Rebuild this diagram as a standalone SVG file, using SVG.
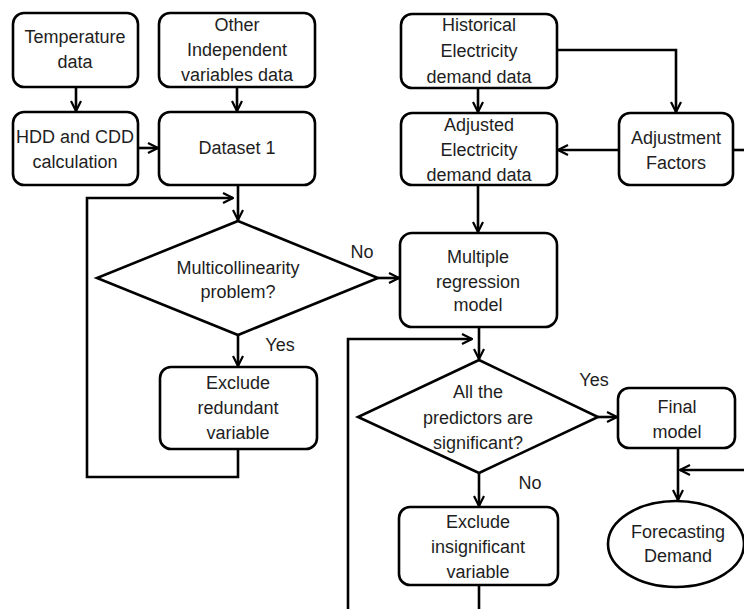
<svg xmlns="http://www.w3.org/2000/svg" width="744" height="609" viewBox="0 0 744 609">
<defs>
<marker id="arr" viewBox="0 0 12 12" refX="11" refY="6" markerWidth="12" markerHeight="12" markerUnits="userSpaceOnUse" orient="auto">
<path d="M1,1 L11,6 L1,11" fill="none" stroke="#000" stroke-width="2.2"/>
</marker>
<style>
.box{fill:#fff;stroke:#000;stroke-width:2.6}
.ln{fill:none;stroke:#000;stroke-width:2.6}
.ar{fill:none;stroke:#000;stroke-width:2.6;marker-end:url(#arr)}
text{font-family:"Liberation Sans",Arial,sans-serif;font-size:18px;fill:#1e1e1e;text-anchor:middle}
</style>
</defs>
<rect width="744" height="609" fill="#fff"/>
<g id="connectors">
<line class="ar" x1="76" y1="87" x2="76" y2="111"/>
<line class="ar" x1="237" y1="87" x2="237" y2="111"/>
<line class="ar" x1="138" y1="148" x2="158" y2="148"/>
<line class="ar" x1="238" y1="185" x2="238" y2="220"/>
<polyline class="ar" points="238,449 238,477 87,477 87,198 233,198"/>
<line class="ar" x1="238" y1="335" x2="238" y2="366"/>
<line class="ar" x1="378" y1="278" x2="399" y2="278"/>
<line class="ar" x1="478" y1="88" x2="478" y2="112"/>
<polyline class="ar" points="557,50 676,50 676,112"/>
<line class="ar" x1="619" y1="150" x2="558" y2="150"/>
<line class="ln" x1="733" y1="150" x2="744" y2="150"/>
<line class="ar" x1="478" y1="185" x2="478" y2="232"/>
<line class="ar" x1="479" y1="327" x2="479" y2="359"/>
<polyline class="ar" points="348,609 348,339 472,339"/>
<line class="ar" x1="598" y1="417" x2="617" y2="417"/>
<line class="ar" x1="479" y1="473" x2="479" y2="506"/>
<line class="ln" x1="479" y1="585" x2="479" y2="609"/>
<line class="ar" x1="678" y1="447" x2="678" y2="500"/>
<line class="ar" x1="744" y1="470" x2="680" y2="470"/>
<text x="362" y="258">No</text>
<text x="280" y="351">Yes</text>
<text x="594" y="386">Yes</text>
<text x="530" y="489">No</text>
</g>
<g id="temperature">
<rect class="box" x="13" y="13" width="125" height="74" rx="11"/>
<text x="75" y="43">Temperature</text>
<text x="75" y="68">data</text>
</g>
<g id="other">
<rect class="box" x="159" y="13" width="156" height="74" rx="11"/>
<text x="237" y="31">Other</text>
<text x="237" y="56">Independent</text>
<text x="237" y="81">variables data</text>
</g>
<g id="hdd">
<rect class="box" x="13" y="112" width="125" height="73" rx="11"/>
<text x="75" y="143">HDD and CDD</text>
<text x="75" y="168">calculation</text>
</g>
<g id="dataset1">
<rect class="box" x="159" y="112" width="156" height="73" rx="11"/>
<text x="237" y="154">Dataset 1</text>
</g>
<g id="historical">
<rect class="box" x="401" y="14" width="156" height="74" rx="11"/>
<text x="479" y="31">Historical</text>
<text x="479" y="57">Electricity</text>
<text x="479" y="83">demand data</text>
</g>
<g id="adjusted">
<rect class="box" x="401" y="113" width="156" height="72" rx="11"/>
<text x="479" y="131">Adjusted</text>
<text x="479" y="156">Electricity</text>
<text x="479" y="181">demand data</text>
</g>
<g id="adjustment">
<rect class="box" x="619" y="113" width="114" height="72" rx="11"/>
<text x="676" y="144">Adjustment</text>
<text x="676" y="169">Factors</text>
</g>
<g id="multicollinearity">
<polygon class="box" points="238,221 378,278 238,335 97,278"/>
<text x="238" y="274">Multicollinearity</text>
<text x="238" y="298">problem?</text>
</g>
<g id="exclude-redundant">
<rect class="box" x="160" y="367" width="157" height="82" rx="11"/>
<text x="238" y="389">Exclude</text>
<text x="238" y="414">redundant</text>
<text x="238" y="439">variable</text>
</g>
<g id="regression">
<rect class="box" x="400" y="233" width="157" height="94" rx="12"/>
<text x="478" y="263">Multiple</text>
<text x="478" y="288">regression</text>
<text x="478" y="311">model</text>
</g>
<g id="significant">
<polygon class="box" points="479,360 598,417 479,473 358,417"/>
<text x="478" y="398">All the</text>
<text x="478" y="424">predictors are</text>
<text x="478" y="449">significant?</text>
</g>
<g id="final">
<rect class="box" x="618" y="388" width="117" height="60" rx="11"/>
<text x="677" y="413">Final</text>
<text x="677" y="438">model</text>
</g>
<g id="exclude-insignificant">
<rect class="box" x="399" y="507" width="159" height="78" rx="11"/>
<text x="478" y="528">Exclude</text>
<text x="478" y="553">insignificant</text>
<text x="478" y="578">variable</text>
</g>
<g id="forecasting">
<ellipse class="box" cx="676" cy="544" rx="68" ry="43"/>
<text x="678" y="538">Forecasting</text>
<text x="678" y="562">Demand</text>
</g>
</svg>
